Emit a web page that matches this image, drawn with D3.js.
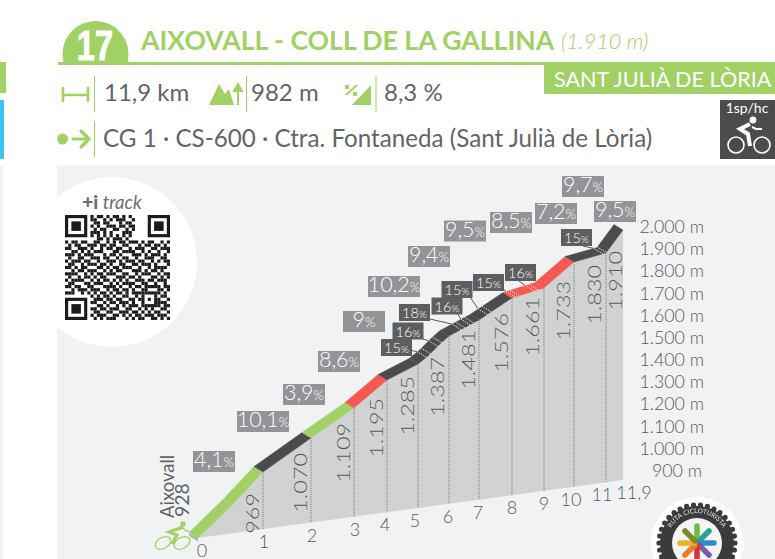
<!DOCTYPE html>
<html>
<head>
<meta charset="utf-8">
<script src="https://cdn.jsdelivr.net/npm/d3@7/dist/d3.min.js"></script>
<style>
  html, body { margin: 0; padding: 0; background: #fff; overflow: hidden; }
  svg { display: block; }
  text { font-family: Lato, sans-serif; }
</style>
</head>
<body>
<svg id="chart" width="775" height="559"></svg>
<script>
/* ---- data ---- */
const kmTicks   = [0, 1, 2, 3, 4, 5, 6, 7, 8, 9, 10, 11, 11.9];
const kmLabels  = ['0', '1', '2', '3', '4', '5', '6', '7', '8', '9', '10', '11', '11,9'];
const altitudes = [928, 969, 1070, 1109, 1195, 1285, 1387, 1481, 1576, 1661, 1733, 1830, 1910];

// the profile also bends in km 0 and twice between km 5 and 6
const profileKm  = [0, 0.55, 1, 2, 3, 4, 5, 5.3, 5.7, 6, 7, 8, 9, 10, 11, 11.9];
const profileAlt = [928, 950, 969, 1070, 1109, 1195, 1285, 1320, 1365, 1387, 1481, 1576, 1661, 1733, 1830, 1910];

const grades     = ['4,1', '10,1', '3,9', '8,6', '9', '10,2', '9,4', '9,5', '8,5', '7,2', '9,7', '9,5'];
const gradeLevel = ['easy', 'hard', 'easy', 'steep', 'hard', 'hard', 'hard', 'hard', 'steep', 'steep', 'hard', 'hard'];

const steepKm     = [5.25, 5.6, 6.4, 6.7, 7.25, 8.1, 8.7, 10.9];
const steepGrades = [15, 16, 18, 16, 15, 15, 16, 15];

const altTicks = [900, 1000, 1100, 1200, 1300, 1400, 1500, 1600, 1700, 1800, 1900, 2000];

const QR_ROWS = [
  '000000001011010110101000000000000',
  '000000001100101011100100000000000',
  '000000000110110001011000000000000',
  '000000001010011101101100000000000',
  '000000000101100110010100000000000',
  '000000001110101000111000000000000',
  '000000001010101010101000000000000',
  '000000000011010111010000000000000',
  '101101100110010101101110101100101',
  '010110011101101100110001011011010',
  '110011101001011011001011100110111',
  '001101010111000110111100101001001',
  '111010111000101101000111010111010',
  '010011001110110010110010011100110',
  '101110110010011101011101100101011',
  '011001011101101001100110111010001',
  '110101100011010110111001001011110',
  '001011011100101011000111010110100',
  '111100101011011100110010111001011',
  '010010110101100011101101000110101',
  '101111001010110101010011101101110',
  '011000110111001010111100110010010',
  '110110011000111101001011011111011',
  '001011101110010110110100110001101',
  '111001010101101011010111111111010',
  '000000001010110100110010100010110',
  '000000000111011011001101101011001',
  '000000001100101101110100100011110',
  '000000000011010010101110111111011',
  '000000001101101110011001010100110',
  '000000000110011001110110101011001',
  '000000001011100110101011011101110',
  '000000000101011100010101100110101',
];

/* ---- colours ---- */
const GREEN = '#a1d165', DARK = '#4a4b4d', RED = '#f45a52', TEXT = '#636466', PANEL = '#f1f2f4';
const LEVEL_COLOR = { easy: GREEN, hard: DARK, steep: RED };

const svg = d3.select('#chart');
const defs = svg.append('defs');
defs.append('filter').attr('id', 'soft').append('feGaussianBlur').attr('stdDeviation', 0.55);

/* ---- scales: the drawing is hand skewed, so they are piecewise ---- */
const x = d3.scaleLinear().domain(profileKm)
  .range([198, 232, 263, 311, 354, 387, 418, 428, 441, 449, 479, 512, 544, 574, 606, 623]);
const y = d3.scaleLinear().domain(profileAlt)
  .range([538, 505, 472, 438, 408, 380, 364, 356, 343, 336, 320, 298, 288, 262, 253, 230]);
const altAt = d3.scaleLinear().domain(profileKm).range(profileAlt);
const baseY = d3.scaleLinear().domain([198, 623]).range([538, 480]);
const axisY = d3.scaleLinear().domain([900, 2000]).range([470, 226]);
const DEPTH = { x: -9, y: -5.5 };

const thousands = v => d3.format(',')(v).replace(',', '.');
const ptAt = km => [x(km), y(altAt(km))];

/* ---- page furniture ---- */
svg.append('rect').attr('x', 0).attr('y', 62).attr('width', 6).attr('height', 31).attr('fill', GREEN);
svg.append('rect').attr('x', 0).attr('y', 100).attr('width', 4).attr('height', 59).attr('fill', '#3cc4f0');
svg.append('rect').attr('x', 0).attr('y', 165).attr('width', 3).attr('height', 394).attr('fill', PANEL);
svg.append('rect').attr('x', 57).attr('y', 165).attr('width', 718).attr('height', 394).attr('fill', PANEL);

function drawHeader() {
  defs.append('clipPath').attr('id', 'num-clip').append('rect')
    .attr('x', 50).attr('y', 0).attr('width', 100).attr('height', 63);
  svg.append('circle').attr('cx', 95.5).attr('cy', 54).attr('r', 33).attr('fill', GREEN)
    .attr('clip-path', 'url(#num-clip)');
  svg.append('text').attr('transform', 'translate(95,60) scale(0.76,1)').attr('text-anchor', 'middle')
    .style('font-family', '"Liberation Sans", sans-serif')
    .attr('font-size', 43).attr('font-weight', 700).attr('fill', '#fff')
    .attr('stroke', '#fff').attr('stroke-width', 0.9).text('17');
  svg.append('rect').attr('x', 58).attr('y', 62).attr('width', 490).attr('height', 3).attr('fill', GREEN);

  svg.append('text').attr('x', 141).attr('y', 50).attr('font-size', 26.6).attr('font-weight', 700)
    .attr('fill', GREEN).text('AIXOVALL - COLL DE LA GALLINA');
  svg.append('text').attr('x', 561).attr('y', 49).attr('font-size', 21.5).attr('font-style', 'italic')
    .attr('font-weight', 300).attr('fill', GREEN).text('(1.910 m)');

  svg.append('rect').attr('x', 544).attr('y', 62).attr('width', 231).attr('height', 32).attr('fill', GREEN);
  svg.append('text').attr('x', 554).attr('y', 87).attr('font-size', 21.6).attr('fill', '#fff')
    .text('SANT JULIÀ DE LÒRIA');

  // dividers
  [[94.5, 76, 112], [246.5, 76, 112], [376, 76, 112], [94.5, 121, 157]].forEach(([dx, a, b]) => {
    svg.append('line').attr('x1', dx).attr('x2', dx).attr('y1', a).attr('y2', b)
      .attr('stroke', GREEN).attr('stroke-width', 1);
  });

  // stats row
  [['11,9 km', 104], ['982 m', 251], ['8,3 %', 384]].forEach(([t, tx]) => {
    svg.append('text').attr('x', tx).attr('y', 101).attr('font-size', 24).attr('fill', TEXT).text(t);
  });
  svg.append('text').attr('x', 103).attr('y', 147).attr('font-size', 24.2).attr('fill', TEXT)
    .text('CG 1 · CS-600 · Ctra. Fontaneda (Sant Julià de Lòria)');

  // distance icon
  svg.append('path').attr('d', 'M63 95H88M63 88V101M88 88V101').attr('fill', 'none')
    .attr('stroke', GREEN).attr('stroke-width', 2.6).attr('stroke-linecap', 'round');
  // mountains + arrow
  svg.append('path').attr('d', 'M209 105L219 84L225 94L229 89L234 105Z').attr('fill', GREEN);
  svg.append('path').attr('d', 'M238 105V88M234 91L238 84L242 91Z').attr('fill', GREEN)
    .attr('stroke', GREEN).attr('stroke-width', 2);
  // slope icon
  svg.append('path').attr('d', 'M352 105L371 85V105Z').attr('fill', GREEN);
  svg.append('path').attr('d', 'M346 95L357 85').attr('stroke', GREEN).attr('stroke-width', 2);
  svg.append('rect').attr('x', 345).attr('y', 85).attr('width', 4).attr('height', 4).attr('fill', GREEN);
  svg.append('rect').attr('x', 353).attr('y', 92).attr('width', 4).attr('height', 4).attr('fill', GREEN);
  // start marker
  svg.append('circle').attr('cx', 62.5).attr('cy', 139).attr('r', 5.5).attr('fill', GREEN);
  svg.append('path').attr('d', 'M73 139H89M81 131L89 139L81 147').attr('fill', 'none')
    .attr('stroke', GREEN).attr('stroke-width', 3.2).attr('stroke-linecap', 'round');

  // category badge
  svg.append('rect').attr('x', 720).attr('y', 100).attr('width', 55).attr('height', 59).attr('fill', '#4b4c4e');
  svg.append('text').attr('x', 747).attr('y', 113).attr('text-anchor', 'middle').attr('font-size', 14)
    .attr('fill', '#fff').text('1sp/hc');
  const b = svg.append('g').attr('fill', 'none').attr('stroke', '#fff');
  b.append('circle').attr('cx', 736).attr('cy', 145).attr('r', 8).attr('stroke-width', 1.6);
  b.append('circle').attr('cx', 762).attr('cy', 145).attr('r', 8).attr('stroke-width', 1.6);
  b.append('path').attr('d', 'M750 124L740 129L748 134L750 146').attr('stroke-width', 4);
  b.append('path').attr('d', 'M752 127L756 129H762').attr('stroke-width', 2.2);
  svg.append('circle').attr('cx', 753).attr('cy', 120).attr('r', 3.4).attr('fill', '#fff');
}

function drawQr() {
  svg.append('circle').attr('cx', 112).attr('cy', 262).attr('r', 85).attr('fill', '#fff');
  const t = svg.append('text').attr('x', 112).attr('y', 209).attr('text-anchor', 'middle').attr('fill', '#6d6e70');
  t.append('tspan').attr('font-size', 19).attr('font-weight', 900).text('+i ');
  t.append('tspan').attr('font-size', 18.5).attr('font-style', 'italic').text('track');

  const n = QR_ROWS.length;
  const cell = d3.scaleBand().domain(d3.range(n)).range([65, 170]);
  const rowY = d3.scaleBand().domain(d3.range(n)).range([215, 320]);
  const g = svg.append('g').attr('fill', '#1c1c1c').attr('filter', 'url(#soft)');
  QR_ROWS.forEach((row, r) => row.split('').forEach((c, i) => {
    if (c === '1') {
      g.append('rect').attr('x', cell(i)).attr('y', rowY(r))
        .attr('width', cell.bandwidth()).attr('height', rowY.bandwidth());
    }
  }));
  // the three finder squares
  [[0, 0], [n - 7, 0], [0, n - 7]].forEach(([c, r]) => {
    const s = cell.bandwidth();
    g.append('rect').attr('x', cell(c) + s / 2).attr('y', rowY(r) + s / 2)
      .attr('width', s * 6).attr('height', s * 6).attr('fill', 'none').attr('stroke', '#1c1c1c').attr('stroke-width', s);
    g.append('rect').attr('x', cell(c + 2)).attr('y', rowY(r + 2)).attr('width', s * 3).attr('height', s * 3);
  });
}

function drawProfile() {
  // body under the road
  const top = profileKm.map(ptAt);
  const body = top.concat([[623, baseY(623)], [198, baseY(198)]]);
  svg.append('path').attr('d', d3.line()(body) + 'Z').attr('fill', '#d1d2d4');

  // little end face at the start
  svg.append('path').attr('d', 'M198 538L189 532.5L189 536L198 541.5Z').attr('fill', '#b5b6b8');

  // dotted km drop lines
  kmTicks.slice(1, -1).forEach(km => {
    const px = x(km);
    svg.append('line').attr('x1', px).attr('x2', px)
      .attr('y1', y(altAt(km))).attr('y2', baseY(px))
      .attr('stroke', '#77787a').attr('stroke-width', 1).attr('stroke-dasharray', '1 1');
  });

  // road ribbon, one piece per stretch between two profile points
  d3.pairs(profileKm).forEach(([a, b]) => {
    const pa = ptAt(a), pb = ptAt(b);
    const level = gradeLevel[Math.min(Math.floor(a), gradeLevel.length - 1)];
    const pts = [pa, pb, [pb[0] + DEPTH.x, pb[1] + DEPTH.y], [pa[0] + DEPTH.x, pa[1] + DEPTH.y]];
    svg.append('path').attr('d', d3.line()(pts) + 'Z').attr('fill', LEVEL_COLOR[level])
      .attr('stroke', LEVEL_COLOR[level]).attr('stroke-width', 0.4);
  });

  // altitude labels written up the drop lines, stretched along their length as in the original
  const labelGap = [0, 21, 15, 15, 18, 12, 21, 10, 15, 9, 19, 12, 21];
  const labelDx  = [0, -10, -10, -10, -10, -10, -11, -10, -10, -11, -10, -11, -7];
  altitudes.forEach((alt, i) => {
    if (i === 0) return;
    const km = kmTicks[i];
    svg.append('text')
      .attr('transform', `translate(${x(km) + labelDx[i]},${y(altAt(km)) + labelGap[i]}) rotate(-90) scale(1.3,1)`)
      .attr('text-anchor', 'end').attr('dy', '0.36em').attr('font-size', 18).attr('font-weight', 300)
      .attr('fill', '#58595b').text(thousands(alt));
  });

  // km labels under the base line
  const tickDx = [4, 1, 1, 1, -2, -3, -1, -1, 0, 0, -3, -4, 11];
  kmTicks.forEach((km, i) => {
    svg.append('text').attr('x', x(km) + tickDx[i]).attr('y', baseY(x(km)) + 12)
      .attr('text-anchor', 'middle').attr('dominant-baseline', 'central').attr('font-size', 18)
      .attr('font-weight', 300).attr('fill', '#58595b').text(kmLabels[i]);
  });

  // altitude axis on the right
  altTicks.forEach(v => {
    svg.append('text').attr('x', v === 900 ? 702 : 704).attr('y', axisY(v)).attr('text-anchor', 'end')
      .attr('dominant-baseline', 'central').attr('font-size', 17.8).attr('font-weight', 300)
      .attr('fill', '#58595b').text(`${thousands(v)} m`);
  });

  // start name
  svg.append('text').attr('transform', 'translate(167,518) rotate(-90)').attr('dy', '0.36em')
    .attr('font-size', 18.5).attr('fill', TEXT).text('Aixovall');
  svg.append('text').attr('transform', `translate(182,517) rotate(-90)`).attr('dy', '0.36em')
    .attr('font-size', 19.5).attr('fill', TEXT).text(altitudes[0]);
}

function gradeBox(cx, cy, w, h, fill, val, size, small) {
  svg.append('rect').attr('x', cx - w / 2).attr('y', cy - h / 2).attr('width', w).attr('height', h).attr('fill', fill);
  const t = svg.append('text').attr('x', cx).attr('y', cy).attr('dy', '0.35em').attr('text-anchor', 'middle')
    .attr('fill', '#fff').attr('font-weight', 300);
  t.append('tspan').attr('font-size', size).text(val);
  t.append('tspan').attr('font-size', small).text('%');
}

function drawGrades() {
  const boxCentres = [[214, 461.5], [263, 421.5], [304, 394.5], [339, 361.5], [364, 321.5], [394, 286.5],
                      [429, 256.5], [465, 231], [511, 222.5], [556, 213.5], [583, 186.5], [615, 211.5]];
  grades.forEach((g, i) => {
    const w = g.length > 3 ? 52 : 42;
    gradeBox(boxCentres[i][0], boxCentres[i][1], w, 21, '#929497', g, 21.5, 13.5);
  });

  const steepBoxes = [[396.5, 347.5], [408, 331], [414.5, 312.5], [447, 306], [457, 289.5], [488.5, 282.5],
                      [520.5, 272.5], [576.5, 237.5]];
  const leaderFrom = [[410, 350], [423, 339], [430, 319], [457, 313], [470, 297], [502, 288], [519, 281], [583, 246]];
  steepKm.forEach((km, i) => {
    const p = ptAt(km);
    svg.append('line').attr('x1', leaderFrom[i][0]).attr('y1', leaderFrom[i][1])
      .attr('x2', p[0] + DEPTH.x).attr('y2', p[1] + DEPTH.y)
      .attr('stroke', '#58595b').attr('stroke-width', 1);
    // twin white dashes across the road
    [km, km + 0.12].forEach(k => {
      const q = ptAt(k);
      svg.append('line').attr('x1', q[0]).attr('y1', q[1]).attr('x2', q[0] + DEPTH.x).attr('y2', q[1] + DEPTH.y)
        .attr('stroke', '#fff').attr('stroke-width', 1).attr('stroke-dasharray', '1.2 1.2');
    });
    gradeBox(steepBoxes[i][0], steepBoxes[i][1], 31, 17, '#5d5e60', steepGrades[i], 14.5, 10.5);
  });
}

function drawCyclist() {
  const g = svg.append('g').attr('fill', 'none').attr('stroke', GREEN);
  g.append('ellipse').attr('cx', 163).attr('cy', 543).attr('rx', 8.5).attr('ry', 5.5)
    .attr('transform', 'rotate(-30 163 543)').attr('stroke-width', 1.3);
  g.append('ellipse').attr('cx', 182).attr('cy', 543).attr('rx', 8.5).attr('ry', 5.5)
    .attr('transform', 'rotate(-30 182 543)').attr('stroke-width', 1.3);
  g.append('path').attr('d', 'M183 527L169 532L177 535L172 544').attr('stroke-width', 3);
  g.append('path').attr('d', 'M183 528L186 531H189').attr('stroke-width', 1.6);
  svg.append('circle').attr('cx', 183).attr('cy', 524).attr('r', 2.8).attr('fill', GREEN);
}

function drawLogo() {
  const cx = 697, cy = 543;
  const logo = svg.append('g').attr('filter', 'url(#soft)');
  logo.append('circle').attr('cx', cx).attr('cy', cy).attr('r', 46).attr('fill', '#fff');
  const gear = logo.append('g').attr('fill', '#3a3a3c');
  gear.append('circle').attr('cx', cx).attr('cy', cy).attr('r', 37);
  d3.range(34).forEach(i => {
    const a = i / 34 * 2 * Math.PI;
    gear.append('circle').attr('cx', cx + 38 * Math.cos(a)).attr('cy', cy + 38 * Math.sin(a)).attr('r', 2.6);
  });
  logo.append('circle').attr('cx', cx).attr('cy', cy).attr('r', 25).attr('fill', '#f4f4f2');
  const petals = ['#6cbd45', '#2aa39a', '#2f8fc8', '#7a5ba6', '#d8323a', '#ee7a2b', '#e3b52a', '#7c8a2c'];
  petals.forEach((c, i) => {
    const a = i / petals.length * 2 * Math.PI - Math.PI / 2;
    logo.append('line').attr('x1', cx + 3 * Math.cos(a)).attr('y1', cy + 3 * Math.sin(a))
      .attr('x2', cx + 17 * Math.cos(a)).attr('y2', cy + 17 * Math.sin(a))
      .attr('stroke', c).attr('stroke-width', 5.5).attr('stroke-linecap', 'round');
  });
  defs.append('path').attr('id', 'logo-arc')
    .attr('d', `M${cx - 30} ${cy}A30 30 0 0 1 ${cx + 30} ${cy}`);
  logo.append('text').attr('font-size', 6.5).attr('fill', '#e8e8e8').attr('text-anchor', 'middle')
    .append('textPath').attr('href', '#logo-arc').attr('startOffset', '50%').text('RUTA CICLOTURISTA');
}

drawHeader();
drawQr();
drawProfile();
drawGrades();
drawCyclist();
drawLogo();
</script>
</body>
</html>
